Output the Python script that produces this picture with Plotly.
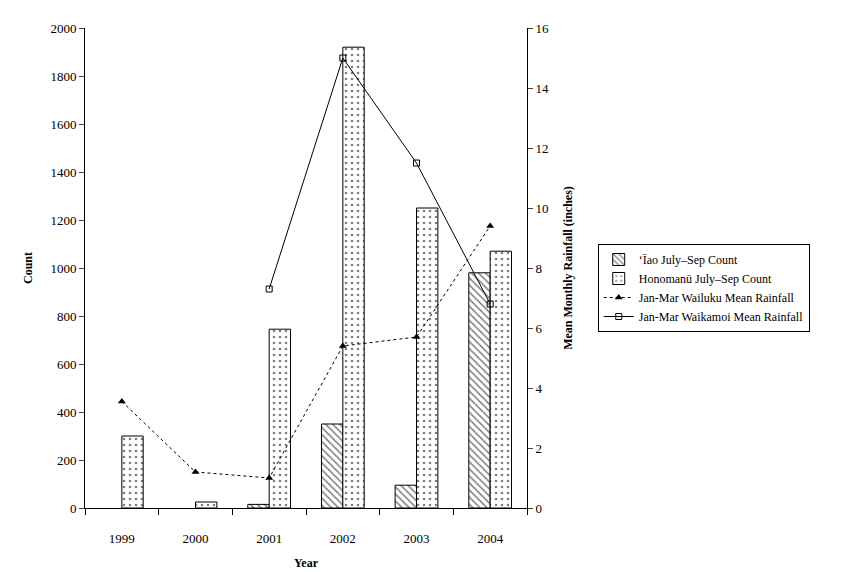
import plotly.graph_objects as go

years = ["1999", "2000", "2001", "2002", "2003", "2004"]
iao = [None, None, 15, 350, 95, 980]
hono = [300, 25, 745, 1920, 1250, 1070]
wailuku = [3.55, 1.2, 1.0, 5.4, 5.7, 9.4]
waikamoi = [None, None, 7.3, 15.0, 11.5, 6.8]

xs = list(range(len(years)))
fig = go.Figure()
fig.add_bar(x=xs, y=iao, name="ʻĪao July–Sep Count",
            marker=dict(color="white", line=dict(color="black", width=1),
                        pattern=dict(shape="\\", fgcolor="black", size=5, solidity=0.3)))
fig.add_bar(x=xs, y=hono, name="Honomanū July–Sep Count",
            marker=dict(color="white", line=dict(color="black", width=1),
                        pattern=dict(shape=".", fgcolor="black", size=6, solidity=0.15)))
fig.add_scatter(x=xs, y=wailuku, name="Jan-Mar Wailuku Mean Rainfall", yaxis="y2",
                mode="lines+markers", line=dict(color="black", width=1, dash="dot"),
                marker=dict(symbol="triangle-up", size=7, color="black"))
fig.add_scatter(x=xs, y=waikamoi, name="Jan-Mar Waikamoi Mean Rainfall", yaxis="y2",
                mode="lines+markers", line=dict(color="black", width=1),
                marker=dict(symbol="square-open", size=6, color="black"))

font = dict(family="Liberation Serif", size=13, color="black")
fig.update_layout(
    width=862, height=572, paper_bgcolor="white", plot_bgcolor="white",
    font=font, barmode="group", bargap=0.42, bargroupgap=0,
    margin=dict(l=77, r=343, t=20, b=59),
    xaxis=dict(range=[-0.5, 5.5], tickvals=xs, ticktext=years, ticks="outside",
               ticklen=18, tickcolor="rgba(0,0,0,0)",
               showline=True, linecolor="black", showgrid=False, zeroline=False,
               minor=dict(tick0=-0.5, dtick=1, ticks="outside", ticklen=6, tickcolor="black"),
               title=dict(text="<b>Year</b>", standoff=14, font=dict(size=12))),
    yaxis=dict(range=[0, 2000], dtick=200, ticks="outside", ticklen=5, showline=True,
               linecolor="black", showgrid=False, zeroline=False,
               title=dict(text="<b>Count</b>", font=dict(size=12))),
    yaxis2=dict(range=[0, 16], dtick=2, ticks="outside", ticklen=5, showline=True,
                linecolor="black", showgrid=False, zeroline=False, overlaying="y", side="right",
                title=dict(text="<b>Mean Monthly Rainfall (inches)</b>", font=dict(size=12))),
    legend=dict(x=1.16, y=0.55, xanchor="left", yanchor="top", bordercolor="black",
                borderwidth=1, font=dict(size=12), tracegroupgap=0),
)
fig.write_html("out.html")
